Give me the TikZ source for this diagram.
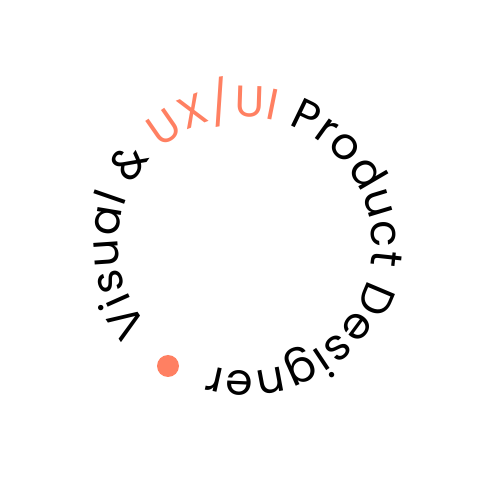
\documentclass[tikz,border=0pt]{standalone}
\usepackage{fontspec}
\newfontfamily\poppins{Poppins}
\usetikzlibrary{decorations.text}
\definecolor{coral}{RGB}{255,128,98}
\begin{document}
\begin{tikzpicture}
\useasboundingbox (0,0) rectangle (488pt,488pt);
\fill[white] (0,0) rectangle (488pt,488pt);
\coordinate (c) at (245pt,244pt);
\path[decorate, decoration={text along path, text align={fit to path},
  text={|\poppins\fontsize{44}{52}\selectfont|Visual {\&} |\poppins\fontsize{44}{52}\selectfont\color{coral}|UX/UI|\poppins\fontsize{44}{52}\selectfont\color{black}| Product Designer}}]
  (c) ++(220.3:127pt) arc[start angle=220.3, end angle=-106.4, radius=127pt];
\node[circle, fill=coral, minimum size=22pt, inner sep=0pt] (dot) at (168pt,122pt) {};
\end{tikzpicture}
\end{document}
